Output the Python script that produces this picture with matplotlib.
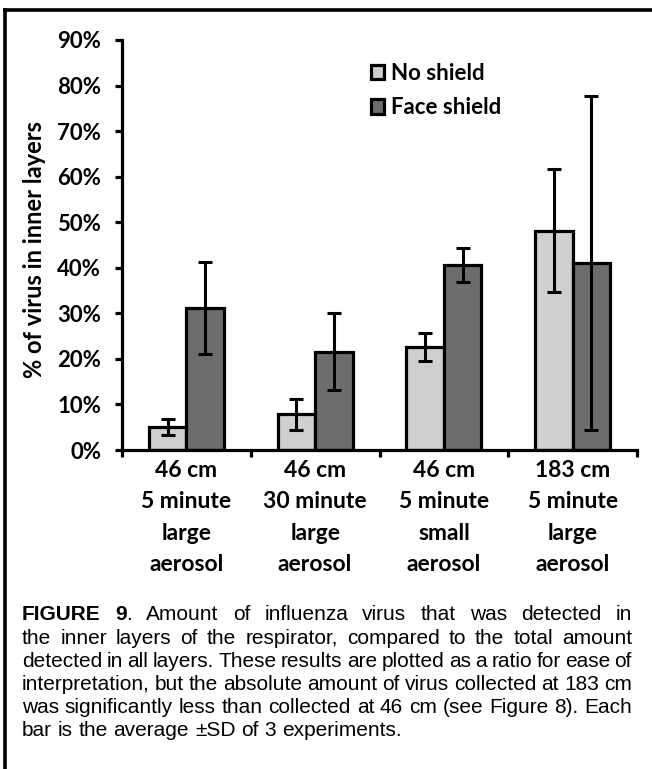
import numpy as np
import matplotlib
matplotlib.use("Agg")
import matplotlib.pyplot as plt
from matplotlib.lines import Line2D
from matplotlib.ticker import FuncFormatter, FixedLocator

#%% --- Data ---

categories = ["46 cm\n5 minute\nlarge\naerosol",
              "46 cm\n30 minute\nlarge\naerosol",
              "46 cm\n5 minute\nsmall\naerosol",
              "183 cm\n5 minute\nlarge\naerosol"]
no_shield = [5.1, 7.8, 22.6, 48.1]
no_shield_sd = [1.8, 3.5, 3.0, 13.5]
face_shield = [31.2, 21.6, 40.6, 41.1]
face_shield_sd = [10.1, 8.5, 3.8, 36.7]
series_labels = ["No shield", "Face shield"]
y_ticks = [0, 10, 20, 30, 40, 50, 60, 70, 80, 90]

caption_lines = [
    "FIGURE 9. Amount of influenza virus that was detected in",
    "the inner layers of the respirator, compared to the total amount",
    "detected in all layers. These results are plotted as a ratio for ease of",
    "interpretation, but the absolute amount of virus collected at 183 cm",
    "was significantly less than collected at 46 cm (see Figure 8). Each",
    "bar is the average \u00b1SD of 3 experiments.",
]

#%% --- Style ---

color_light = "#cfcfcf"
color_dark = "#6d6d6d"
chart_font = "Lato"
caption_font = "Liberation Sans"
fs = 16

W, H = 652, 769
fig = plt.figure(figsize=(W / 100, H / 100), dpi=100)
fig.set_facecolor("white")

# axes placed in pixel terms: y spine at x=122, x axis at y=450, 90% at y=40
ax = fig.add_axes([122 / W, 1 - 450 / H, (637 - 122) / W, (450 - 40) / H])

x = np.arange(len(categories))
bw = 0.292

ax.bar(x - bw / 2, no_shield, bw, color=color_light, edgecolor="black",
       linewidth=2.3, label=series_labels[0], zorder=2)
ax.bar(x + bw / 2, face_shield, bw, color=color_dark, edgecolor="black",
       linewidth=2.3, label=series_labels[1], zorder=2)

for xs, vals, sd in [(x - bw / 2, no_shield, no_shield_sd),
                     (x + bw / 2, face_shield, face_shield_sd)]:
    ax.errorbar(xs, vals, yerr=sd, fmt="none", ecolor="black",
                elinewidth=2.2, capsize=4.7, capthick=2.2, zorder=3)

ax.set_xlim(-0.5, len(categories) - 0.5)
ax.set_ylim(0, 90)

# --- spines ---
for s in ["top", "right"]:
    ax.spines[s].set_visible(False)
for s in ["left", "bottom"]:
    ax.spines[s].set_linewidth(2.3)

# --- ticks ---
ax.set_yticks(y_ticks)
ax.yaxis.set_major_formatter(FuncFormatter(lambda v, p: "%d%%" % v))
ax.tick_params(axis="y", length=5, width=2.3, pad=10, direction="out")

ax.xaxis.set_major_locator(FixedLocator(np.arange(-0.5, len(categories), 1.0)))
ax.xaxis.set_major_formatter(FuncFormatter(lambda v, p: ""))
ax.xaxis.set_minor_locator(FixedLocator(x))
ax.set_xticklabels(categories, minor=True)
ax.tick_params(axis="x", which="major", length=5, width=2.3, direction="out")
ax.tick_params(axis="x", which="minor", length=0, pad=7)

for lab in ax.get_yticklabels():
    lab.set_fontfamily(chart_font)
    lab.set_fontweight("bold")
    lab.set_fontsize(fs)
for lab in ax.get_xticklabels(minor=True):
    lab.set_fontfamily(chart_font)
    lab.set_fontweight("bold")
    lab.set_fontsize(fs + 0.5)
    lab.set_linespacing(1.62)
    lab.set_multialignment("center")

fig.text(35 / W, 1 - 250 / H, "% of virus in inner layers", rotation=90,
         ha="center", va="center", fontfamily=chart_font, fontweight="bold",
         fontsize=fs + 1)

# --- legend ---
ax.legend(loc="upper left", bbox_to_anchor=(371 / W, 1 - 63 / H),
          bbox_transform=fig.transFigure, frameon=False,
          prop={"family": chart_font, "weight": "bold", "size": fs},
          handlelength=0.6, handleheight=0.6, handletextpad=0.3,
          labelspacing=0.6, borderaxespad=0, borderpad=0)

# --- figure frame (left and top rules) ---
fig.add_artist(Line2D([5 / W, 5 / W], [0, 1 - 10 / H], color="black",
                      linewidth=2.6, transform=fig.transFigure))
fig.add_artist(Line2D([5 / W, 1], [1 - 10 / H, 1 - 10 / H], color="black",
                      linewidth=2.6, transform=fig.transFigure))

#%% --- Caption, justified between x_left and x_right ---

fig.canvas.draw()
renderer = fig.canvas.get_renderer()
x_left, x_right = 22, 632
line_y0, line_step = 615, 23.2
cap_size = 15.0


def place_line(words, y_fig, size, bold_words):
    texts = []
    for j, w in enumerate(words):
        t = fig.text(0, y_fig, w, ha="left", va="center",
                     fontfamily=caption_font, fontsize=size,
                     fontweight="bold" if w in bold_words else "normal")
        texts.append(t)
    widths = [t.get_window_extent(renderer=renderer).width for t in texts]
    return texts, widths


for i, line in enumerate(caption_lines):
    words = line.split(" ")
    if i == 0:
        # "FIGURE 9" bold, the full stop regular
        words = ["FIGURE", "9", "."] + words[2:]
    y_fig = 1 - (line_y0 + i * line_step) / H
    bold_words = ["FIGURE", "9"] if i == 0 else []
    size = cap_size
    texts, widths = place_line(words, y_fig, size, bold_words)
    gaps = len(words) - 1 - (1 if i == 0 else 0)
    min_space = size * 100 / 72 * 0.2
    need = sum(widths) + min_space * gaps
    if need > x_right - x_left:
        # condense the line a little, as the typesetter did
        for t in texts:
            t.remove()
        size = size * (x_right - x_left) / need
        texts, widths = place_line(words, y_fig, size, bold_words)
    last = (i == len(caption_lines) - 1)
    if last:
        space = size * 100 / 72 * 0.278
    else:
        space = (x_right - x_left - sum(widths)) / gaps
    pos = x_left
    for j, (t, wd) in enumerate(zip(texts, widths)):
        t.set_x(pos / W)
        glued = (i == 0 and j == 1)  # no gap between "9" and "."
        pos += wd + (0 if glued else space)

fig.savefig("out.png", dpi=100, facecolor="white")
